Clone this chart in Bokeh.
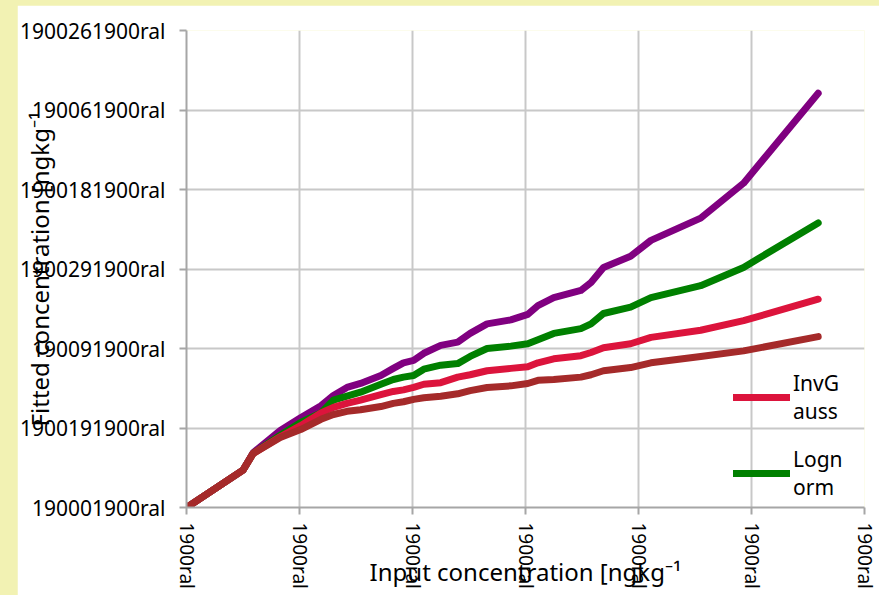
from bokeh.plotting import figure
from bokeh.models import (Range1d, FixedTicker, Legend, LegendItem,
                          GlobalInlineStyleSheet)
from bokeh.embed import file_html
from bokeh.resources import INLINE

# ---------------- data ----------------
x_vals = [0.00, 0.50, 0.59, 0.83, 1.01, 1.19, 1.30, 1.42, 1.54, 1.72,
          1.83, 1.92, 2.01, 2.10, 2.25, 2.40, 2.51, 2.66, 2.87, 3.02,
          3.11, 3.25, 3.49, 3.58, 3.69, 3.93, 4.11, 4.55, 4.93, 5.59]

purple_vals = [0.00, 0.47, 0.69, 0.97, 1.13, 1.28, 1.41, 1.51, 1.56, 1.66,
               1.75, 1.82, 1.85, 1.94, 2.04, 2.08, 2.19, 2.31, 2.36, 2.43,
               2.54, 2.64, 2.73, 2.83, 3.02, 3.16, 3.36, 3.64, 4.08, 5.21]

lognorm_vals = [0.00, 0.47, 0.68, 0.91, 1.07, 1.19, 1.35, 1.40, 1.45, 1.55,
                1.61, 1.64, 1.66, 1.74, 1.79, 1.81, 1.90, 2.00, 2.03, 2.06,
                2.11, 2.19, 2.25, 2.31, 2.44, 2.52, 2.64, 2.79, 3.02, 3.58]

invgauss_vals = [0.00, 0.47, 0.68, 0.89, 1.03, 1.19, 1.26, 1.31, 1.35, 1.42,
                 1.46, 1.48, 1.51, 1.55, 1.57, 1.64, 1.67, 1.72, 1.75, 1.77,
                 1.82, 1.87, 1.91, 1.95, 2.01, 2.06, 2.14, 2.23, 2.35, 2.62]

brown_vals = [0.00, 0.47, 0.68, 0.88, 0.98, 1.11, 1.17, 1.21, 1.23, 1.27,
              1.31, 1.33, 1.36, 1.38, 1.40, 1.43, 1.47, 1.51, 1.53, 1.56,
              1.60, 1.61, 1.64, 1.67, 1.72, 1.76, 1.82, 1.90, 1.97, 2.15]

x_ticks = [0, 1, 2, 3, 4, 5, 6]
x_tick_labels = ["1900ral"] * 7
y_ticks = [0, 1, 2, 3, 4, 5, 6]
y_tick_labels = ["190001900ral", "1900191900ral", "190091900ral",
                 "1900291900ral", "1900181900ral", "190061900ral",
                 "1900261900ral"]

x_title = "Input concentration [ngkg\u207b\u00b9"
y_title = "Fitted concentration [ngkg\u207b\u00b9"
legend_labels = ["InvG\nauss", "Logn\norm"]

FONT = "Noto Sans"

p = figure(width=862, height=590, output_backend="svg", toolbar_location=None,
           x_range=Range1d(0, 6), y_range=Range1d(0, 6),
           min_border_left=169, min_border_right=15, min_border_top=25,
           min_border_bottom=88)
p.stylesheets = [GlobalInlineStyleSheet(
    css="html,body{overflow:hidden;}body{margin:5px 0 0 17px !important;background:#f2f2b3;}")]

p.background_fill_color = "white"
p.border_fill_color = "white"
p.outline_line_color = None

for g in (p.xgrid, p.ygrid):
    g.grid_line_color = "#c8c8c8"
    g.grid_line_width = 2

p.xaxis.ticker = FixedTicker(ticks=x_ticks)
p.yaxis.ticker = FixedTicker(ticks=y_ticks)
p.xaxis.major_label_overrides = {t: l for t, l in zip(x_ticks, x_tick_labels)}
p.yaxis.major_label_overrides = {t: l for t, l in zip(y_ticks, y_tick_labels)}
p.xaxis.major_label_orientation = "vertical"

for ax in (p.xaxis[0], p.yaxis[0]):
    ax.axis_line_color = "#a6a6a6"
    ax.axis_line_width = 2
    ax.major_tick_line_color = "#a6a6a6"
    ax.major_tick_line_width = 2
    ax.major_tick_out = 7
    ax.major_tick_in = 0
    ax.minor_tick_line_color = None
    ax.major_label_text_font = FONT
    ax.major_label_text_color = "black"
    ax.axis_label_text_font = FONT
    ax.axis_label_text_font_size = "24px"
    ax.axis_label_text_font_style = "normal"
    ax.axis_label_text_color = "black"

p.yaxis.major_label_text_font_size = "21px"
p.xaxis.major_label_text_font_size = "19px"
p.yaxis.major_label_standoff = 14
p.xaxis.major_label_standoff = 8
p.xaxis.axis_label = x_title
p.yaxis.axis_label = y_title
p.yaxis.axis_label_standoff = -39
p.xaxis.axis_label_standoff = -37

r_purple = p.line(x_vals, purple_vals, line_color="#800080", line_width=7,
                  line_cap="round", line_join="round")
r_green = p.line(x_vals, lognorm_vals, line_color="#008000", line_width=7,
                 line_cap="round", line_join="round")
r_red = p.line(x_vals, invgauss_vals, line_color="#dc143c", line_width=7,
               line_cap="round", line_join="round")
r_brown = p.line(x_vals, brown_vals, line_color="#a52a2a", line_width=7,
                 line_cap="round", line_join="round")

legend = Legend(items=[LegendItem(label=legend_labels[0], renderers=[r_red]),
                       LegendItem(label=legend_labels[1], renderers=[r_green])],
                location=(547, 6))
legend.background_fill_alpha = 0
legend.border_line_alpha = 0
legend.padding = 0
legend.margin = 0
legend.spacing = 20
legend.glyph_width = 57
legend.glyph_height = 20
legend.label_standoff = 3
legend.label_text_font = FONT
legend.label_text_font_size = "21px"
legend.label_text_color = "black"
legend.label_text_line_height = 2.0
p.add_layout(legend, "center")

open("out.html", "w").write(file_html(p, INLINE))
